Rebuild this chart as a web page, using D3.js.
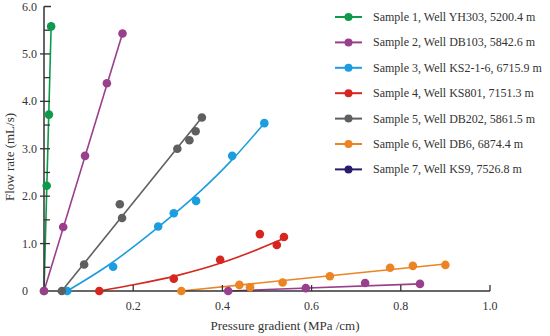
<!DOCTYPE html>
<html>
<head>
<meta charset="utf-8">
<script src="https://cdn.jsdelivr.net/npm/d3@7"></script>
<style>
  body { margin: 0; background: #fff; }
  text { font-family: "Liberation Serif", "DejaVu Serif", serif; fill: #333; }
</style>
</head>
<body>
<script>
var width = 550
var height = 336

// sample labels and colours (legend colour / marker colour)
var names = ["Sample 1, Well YH303, 5200.4 m", "Sample 2, Well DB103, 5842.6 m",
             "Sample 3, Well KS2-1-6, 6715.9 m", "Sample 4, Well KS801, 7151.3 m",
             "Sample 5, Well DB202, 5861.5 m", "Sample 6, Well DB6, 6874.4 m",
             "Sample 7, Well KS9, 7526.8 m"]
var legendColors = ["#0e9a4a", "#9a3f8c", "#1b9de0", "#d6261f", "#5f5f5f", "#ec8423", "#2b1b6c"]
var plotColors   = ["#0e9a4a", "#9a3f8c", "#1b9de0", "#d6261f", "#5f5f5f", "#ec8423", "#9a3f8c"]

// measured points [pressure gradient, flow rate]
var s1 = [[0, 0], [0.006, 2.22], [0.011, 3.72], [0.016, 5.58]]
var s2 = [[0, 0], [0.043, 1.35], [0.092, 2.85], [0.141, 4.38], [0.176, 5.43]]
var s3 = [[0.052, 0], [0.155, 0.51], [0.256, 1.36], [0.291, 1.64], [0.341, 1.90], [0.422, 2.85], [0.494, 3.54]]
var s4 = [[0.124, 0], [0.291, 0.26], [0.395, 0.66], [0.484, 1.20], [0.522, 0.97], [0.538, 1.14]]
var s5 = [[0.040, 0], [0.090, 0.56], [0.175, 1.54], [0.170, 1.83], [0.299, 3.00], [0.326, 3.18], [0.340, 3.37], [0.354, 3.66]]
var s6 = [[0.308, 0], [0.438, 0.13], [0.462, 0.08], [0.535, 0.18], [0.641, 0.31], [0.776, 0.49], [0.827, 0.53], [0.900, 0.55]]
var s7 = [[0.413, 0], [0.587, 0.06], [0.720, 0.17], [0.843, 0.15]]

// fitted trend lines
var f1 = [[0, 0], [0.016, 5.58]]
var f2 = [[0, 0], [0.176, 5.43]]
var f3 = [[0.052, 0], [0.15, 0.58], [0.25, 1.30], [0.35, 2.10], [0.42, 2.75], [0.494, 3.54]]
var f4 = [[0.124, 0], [0.2, 0.13], [0.3, 0.33], [0.4, 0.60], [0.48, 0.88], [0.536, 1.10]]
var f5 = [[0.040, 0], [0.354, 3.66]]
var f6 = [[0.308, 0], [0.900, 0.57]]
var f7 = [[0.413, 0.0], [0.843, 0.15]]

var points = [s1, s2, s3, s4, s5, s6, s7]
var fits = [f1, f2, f3, f4, f5, f6, f7]

var xTicks = [0.2, 0.4, 0.6, 0.8, 1.0]
var yTicks = [0, 1, 2, 3, 4, 5, 6]
var yMinor = [0.5, 1.5, 2.5, 3.5, 4.5, 5.5]

var svg = d3.select("body")
			.append("svg")
			.attr("width", width)
			.attr("height", height)

var x = d3.scaleLinear().domain([0, 1]).range([44, 490])
var y = d3.scaleLinear().domain([0, 6]).range([291, 6.5])

var line = d3.line()
	.x(function(d) { return x(d[0]) })
	.y(function(d) { return y(d[1]) })
	.curve(d3.curveMonotoneX)

// fit lines
svg.selectAll("path.fit")
	.data(fits)
	.enter()
	.append("path")
	.attr("class", "fit")
	.attr("d", line)
	.style("fill", "none")
	.style("stroke", function(d, i) { return plotColors[i] })
	.style("stroke-width", 1.6)

// axes
var axisColor = "#333"
svg.append("line")
	.attr("x1", x(0)).attr("x2", x(1))
	.attr("y1", y(0)).attr("y2", y(0))
	.style("stroke", axisColor).style("stroke-width", 1.5)
svg.append("line")
	.attr("x1", x(0)).attr("x2", x(0))
	.attr("y1", y(0)).attr("y2", y(6))
	.style("stroke", axisColor).style("stroke-width", 1.5)

svg.selectAll("line.xt")
	.data(xTicks)
	.enter()
	.append("line")
	.attr("x1", function(d) { return x(d) }).attr("x2", function(d) { return x(d) })
	.attr("y1", y(0)).attr("y2", y(0) - 6)
	.style("stroke", axisColor).style("stroke-width", 1.3)

svg.selectAll("text.xt")
	.data(xTicks)
	.enter()
	.append("text")
	.attr("x", function(d) { return x(d) })
	.attr("y", 310)
	.attr("text-anchor", "middle")
	.style("font-size", "12px")
	.text(function(d) { return d.toFixed(1) })

svg.selectAll("line.yt")
	.data(yTicks.slice(1, 6))
	.enter()
	.append("line")
	.attr("x1", x(0) - 4).attr("x2", x(0) + 6)
	.attr("y1", function(d) { return y(d) }).attr("y2", function(d) { return y(d) })
	.style("stroke", axisColor).style("stroke-width", 1.3)

svg.append("line")
	.attr("x1", x(0)).attr("x2", x(0) + 7)
	.attr("y1", y(6)).attr("y2", y(6))
	.style("stroke", axisColor).style("stroke-width", 1.5)

svg.selectAll("line.ym")
	.data(yMinor)
	.enter()
	.append("line")
	.attr("x1", x(0)).attr("x2", x(0) + 6)
	.attr("y1", function(d) { return y(d) }).attr("y2", function(d) { return y(d) })
	.style("stroke", axisColor).style("stroke-width", 1.3)

svg.selectAll("text.yt")
	.data(yTicks)
	.enter()
	.append("text")
	.attr("x", function(d) { return d == 0 ? 28 : 37 })
	.attr("y", function(d) { return y(d) + 4 })
	.attr("text-anchor", "end")
	.style("font-size", "12px")
	.text(function(d) { return d == 0 ? "0" : d.toFixed(1) })

// axis titles
svg.append("text")
	.attr("x", 285).attr("y", 330)
	.attr("text-anchor", "middle")
	.style("font-size", "13px")
	.text("Pressure gradient  (MPa /cm)")

svg.append("text")
	.attr("transform", "translate(14,157) rotate(-90)")
	.attr("text-anchor", "middle")
	.style("font-size", "13px")
	.text("Flow rate  (mL/s)")

// points
points.forEach(function(s, i) {
	svg.selectAll("circle.s" + i)
		.data(s)
		.enter()
		.append("circle")
		.attr("class", "s" + i)
		.attr("cx", function(d) { return x(d[0]) })
		.attr("cy", function(d) { return y(d[1]) })
		.attr("r", 4.3)
		.style("fill", plotColors[i])
})

// legend
var legend = svg.selectAll("g.legend")
	.data(names)
	.enter()
	.append("g")
	.attr("class", "legend")
	.attr("transform", function(d, i) { return "translate(335," + (17 + i * 25.4) + ")" })

legend.append("line")
	.attr("x1", 0).attr("x2", 27)
	.style("stroke", function(d, i) { return legendColors[i] })
	.style("stroke-width", 2)
legend.append("circle")
	.attr("cx", 13.5).attr("r", 4)
	.style("fill", function(d, i) { return legendColors[i] })
legend.append("text")
	.attr("x", 38).attr("y", 4)
	.style("font-size", "12px")
	.text(function(d) { return d })
</script>
</body>
</html>
